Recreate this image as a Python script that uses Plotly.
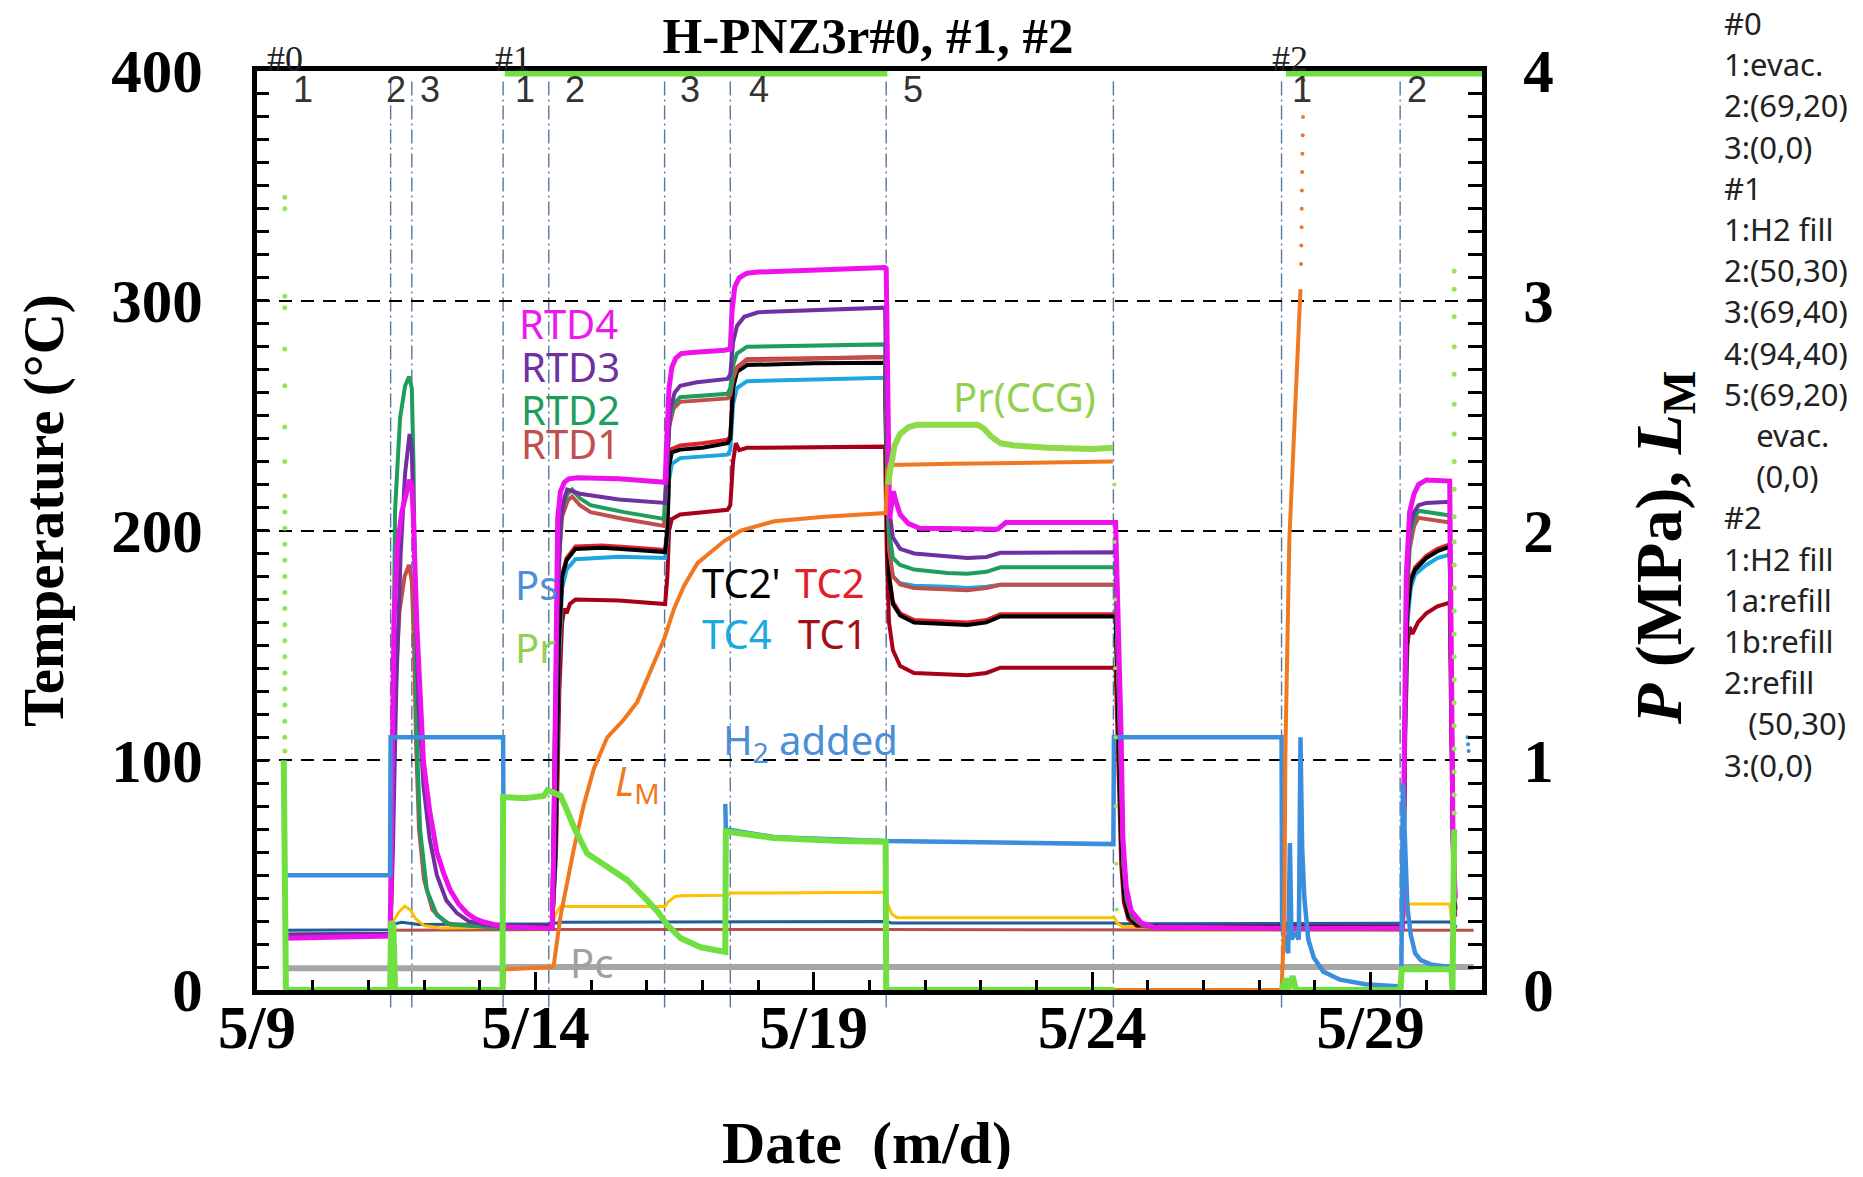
import numpy as np
import pandas as pd
import plotly.graph_objects as go

BASE = pd.Timestamp("2016-05-09")


def to_dt(days):
    return BASE + pd.to_timedelta(np.asarray(days, dtype=float), unit="D")


# ---------------- data: (days after 5/9 00:00, value) ----------------
event_days = [2.40, 2.78, 4.42, 5.24, 7.32, 8.50, 11.30, 15.38, 18.40, 20.53]
step_label_days = [0.83, 2.50, 3.10, 4.82, 5.71, 7.78, 9.02, 11.78, 18.77, 20.84]
step_labels = ["1", "2", "3", "1", "2", "3", "4", "5", "1", "2"]
run_label_days = [0.50, 4.60, 18.56]
run_labels = ["#0", "#1", "#2"]

x_tick_days = [0, 5, 10, 15, 20]
x_tick_text = ["5/9", "5/14", "5/19", "5/24", "5/29"]
y_ticks = [0, 100, 200, 300, 400]
y2_ticks = [0, 1, 2, 3, 4]

# temperatures (deg C)
rtd4 = [(0.47, 22.5), (1.0, 22.8), (2.0, 23.3), (2.39, 23.5), (2.40, 40), (2.42, 100), (2.46, 160), (2.52, 193),
        (2.60, 208), (2.68, 216), (2.74, 222), (2.78, 220), (2.81, 205), (2.87, 159), (2.93, 129), (2.99, 99),
        (3.10, 78), (3.23, 60), (3.35, 51), (3.47, 43.5), (3.62, 37.5), (3.77, 33.5), (3.92, 31), (4.07, 29.6),
        (4.43, 27.5), (5.00, 27), (5.30, 27), (5.33, 60), (5.36, 150), (5.40, 205), (5.45, 217), (5.52, 221),
        (5.60, 222.5), (5.75, 223), (6.50, 222.5), (7.33, 221), (7.36, 240), (7.40, 262), (7.45, 271),
        (7.52, 275), (7.62, 277), (7.80, 277.5), (8.40, 278.5), (8.50, 279), (8.53, 295), (8.58, 306),
        (8.66, 310), (8.80, 312), (9.00, 312.5), (9.50, 313), (10.50, 313.5), (11.28, 314.5), (11.30, 314),
        (11.33, 240), (11.36, 205), (11.40, 212), (11.43, 217), (11.47, 213), (11.55, 207), (11.70, 203),
        (11.90, 201), (13.30, 200.5), (13.45, 203.5), (15.42, 203.5), (15.46, 170), (15.52, 110), (15.55, 65.7),
        (15.61, 44.8), (15.70, 34.4), (15.88, 29.2), (16.12, 27.3), (17.0, 27), (18.40, 27), (20.57, 27),
        (20.60, 100), (20.64, 180), (20.70, 208), (20.78, 216), (20.86, 220), (21.00, 222), (21.42, 221.5),
        (21.45, 150), (21.48, 65), (21.52, 40)]
rtd3 = [(0.47, 24), (2.39, 24.5), (2.40, 26), (2.44, 60), (2.50, 130), (2.58, 190), (2.66, 225), (2.74, 242),
        (2.78, 235), (2.83, 185), (2.90, 125), (2.99, 89), (3.10, 66), (3.23, 50), (3.40, 39), (3.59, 33.5),
        (3.80, 30), (4.07, 28.5), (4.43, 27.5), (5.30, 27), (5.34, 80), (5.40, 170), (5.46, 205), (5.52, 214),
        (5.57, 217.8), (5.80, 216), (6.50, 213.5), (7.33, 212), (7.37, 230), (7.42, 252), (7.50, 260),
        (7.60, 263), (7.90, 264.5), (8.45, 266), (8.50, 268), (8.55, 282), (8.62, 289), (8.75, 293), (9.00, 295),
        (10.0, 296), (11.28, 297), (11.31, 250), (11.35, 210), (11.42, 197), (11.55, 192), (11.80, 190),
        (12.40, 188.5), (12.76, 188), (13.10, 188.5), (13.35, 190.3), (15.42, 190.5), (15.46, 150), (15.52, 90),
        (15.56, 60), (15.62, 42), (15.72, 33), (15.90, 28.5), (16.20, 27), (18.40, 27), (20.57, 27), (20.60, 90),
        (20.64, 170), (20.70, 200), (20.78, 208), (20.86, 211), (21.00, 212), (21.42, 212.5), (21.45, 140),
        (21.48, 70), (21.52, 40)]
rtd2 = [(0.47, 24), (2.39, 24.5), (2.40, 26), (2.42, 80), (2.44, 129), (2.48, 209), (2.57, 249), (2.66, 263),
        (2.73, 267), (2.78, 262), (2.81, 229), (2.84, 169), (2.87, 109), (2.93, 69.4), (3.05, 43.5), (3.23, 32.6),
        (3.47, 28.5), (4.43, 27), (5.30, 27), (5.34, 100), (5.40, 185), (5.48, 210), (5.58, 216), (5.66, 217.8),
        (5.80, 214), (5.99, 211), (6.59, 208), (7.31, 205), (7.35, 225), (7.40, 248), (7.48, 255), (7.60, 258),
        (8.45, 259.5), (8.50, 262), (8.55, 272), (8.62, 277), (8.80, 280), (10.0, 280.5), (11.28, 281),
        (11.31, 240), (11.35, 200), (11.42, 188), (11.55, 185), (11.80, 183), (12.40, 181.5), (12.76, 181.2),
        (13.10, 182), (13.35, 184), (15.42, 184), (15.46, 145), (15.52, 85), (15.56, 55), (15.62, 40),
        (15.72, 32), (15.90, 28.5), (16.20, 27), (18.40, 27), (20.57, 27), (20.60, 95), (20.64, 170),
        (20.70, 196), (20.78, 205), (20.86, 208.6), (21.00, 208), (21.42, 206.5), (21.45, 140), (21.48, 70),
        (21.52, 40)]
rtd1 = [(0.47, 24), (2.39, 24.5), (2.40, 26), (2.43, 70), (2.48, 130), (2.56, 165), (2.65, 180), (2.73, 185),
        (2.78, 178), (2.82, 150), (2.86, 105), (2.91, 70), (3.00, 48), (3.15, 35), (3.40, 29), (4.43, 27),
        (5.30, 27), (5.34, 95), (5.40, 180), (5.48, 206), (5.58, 213), (5.66, 214.8), (5.80, 211), (5.99, 208),
        (6.59, 205), (7.31, 202), (7.35, 222), (7.40, 245), (7.48, 253), (7.60, 256), (8.45, 257.5), (8.50, 259),
        (8.55, 266), (8.62, 271), (8.80, 274), (11.28, 275.5), (11.31, 230), (11.35, 192), (11.42, 180),
        (11.55, 176.5), (11.80, 175), (12.40, 174.3), (12.76, 174), (13.10, 175), (13.35, 176.4), (15.42, 176.4),
        (15.46, 140), (15.52, 82), (15.56, 54), (15.62, 39), (15.72, 31.5), (15.90, 28), (16.20, 27), (18.40, 27),
        (20.57, 27), (20.60, 90), (20.64, 165), (20.70, 192), (20.78, 202), (20.86, 205.5), (21.00, 205),
        (21.42, 203.5), (21.45, 130), (21.48, 65), (21.52, 38)]
tc2p = [(4.43, 27.5), (5.30, 27.5), (5.36, 60), (5.42, 150), (5.48, 180), (5.56, 187), (5.72, 192),
        (6.20, 192.5), (6.80, 191.5), (7.33, 190.6), (7.37, 200), (7.40, 228), (7.45, 234), (7.60, 235.2),
        (8.00, 236), (8.45, 238), (8.50, 240), (8.55, 262), (8.62, 269), (8.80, 272), (10.0, 272.8), (11.28, 273),
        (11.31, 210), (11.35, 180), (11.42, 168), (11.55, 163), (11.80, 160), (12.40, 159.5), (12.76, 158.9),
        (13.10, 160), (13.35, 162.6), (15.42, 162.6), (15.46, 120), (15.52, 65), (15.57, 42), (15.65, 32),
        (15.80, 28.5), (16.20, 27.5), (18.40, 27.5), (20.58, 27.5), (20.62, 120), (20.66, 165), (20.72, 178),
        (20.80, 183), (21.00, 188), (21.20, 191), (21.42, 193), (21.45, 120), (21.48, 60), (21.52, 35)]
tc2 = [(4.43, 27.5), (5.30, 27.5), (5.36, 60), (5.42, 150), (5.48, 181), (5.56, 188), (5.72, 193),
       (6.20, 193.5), (6.80, 192.5), (7.33, 191.5), (7.37, 201), (7.40, 229), (7.45, 235.5), (7.60, 237),
       (8.00, 238), (8.45, 239.5), (8.50, 241), (8.55, 264), (8.62, 271), (8.80, 274.5), (10.0, 275),
       (11.28, 275.5), (11.31, 212), (11.35, 181), (11.42, 169), (11.55, 164), (11.80, 161), (12.40, 160.5),
       (12.76, 160), (13.10, 161), (13.35, 163.5), (15.42, 163.5), (15.46, 121), (15.52, 66), (15.57, 42.5),
       (15.65, 32), (15.80, 28.5), (16.20, 27.5), (18.40, 27.5), (20.58, 27.5), (20.62, 121), (20.66, 166),
       (20.72, 179), (20.80, 184), (21.00, 189), (21.20, 192), (21.42, 194), (21.45, 121), (21.48, 60),
       (21.52, 35)]
tc4 = [(4.43, 27.5), (5.30, 27.5), (5.36, 55), (5.42, 140), (5.48, 175), (5.56, 183), (5.72, 187.5),
       (6.50, 188.6), (7.33, 188), (7.37, 198), (7.40, 222), (7.45, 229), (7.60, 231.5), (8.45, 233), (8.50, 235),
       (8.55, 255), (8.62, 262), (8.80, 265), (11.28, 266.5), (11.31, 215), (11.35, 190), (11.42, 180),
       (11.55, 177), (11.80, 176), (12.40, 175.5), (12.76, 175), (13.10, 175.5), (13.35, 176.4), (15.42, 176.4),
       (15.46, 135), (15.52, 78), (15.56, 52), (15.62, 38), (15.72, 31), (15.90, 28), (16.20, 27.5), (18.40, 27.5),
       (20.58, 27.5), (20.62, 110), (20.66, 160), (20.72, 175), (20.80, 181), (21.00, 185), (21.20, 188),
       (21.42, 189.5), (21.45, 120), (21.48, 60), (21.52, 35)]
tc1 = [(4.43, 27.5), (5.30, 27.5), (5.37, 60), (5.43, 130), (5.48, 160), (5.52, 166), (5.56, 164),
       (5.62, 168), (5.72, 170), (6.50, 169.5), (7.33, 168), (7.37, 180), (7.40, 200), (7.45, 205), (7.60, 207),
       (8.45, 209), (8.50, 211), (8.55, 230), (8.60, 238), (8.66, 235), (8.80, 236), (11.28, 236.5), (11.31, 190),
       (11.35, 160), (11.42, 148), (11.55, 141), (11.80, 138), (12.40, 137.3), (12.76, 137), (13.10, 138),
       (13.35, 140.3), (15.42, 140.3), (15.46, 100), (15.52, 55), (15.57, 38), (15.65, 31), (15.80, 28),
       (16.20, 27.5), (18.40, 27.5), (20.58, 27.5), (20.62, 110), (20.66, 150), (20.70, 158), (20.75, 155),
       (20.85, 160), (21.00, 164), (21.20, 167), (21.42, 168.6), (21.45, 110), (21.48, 55), (21.52, 32)]
t_darkblue = [(0.47, 26), (2.39, 26.2), (2.42, 28.5), (2.60, 29.5), (2.90, 28.5), (4.40, 28.5), (5.30, 28.8),
              (5.45, 29.5), (11.30, 29.8), (11.40, 29.2), (15.40, 29.2), (15.50, 28.8), (18.40, 28.8),
              (20.55, 29), (20.65, 29.6), (21.42, 29.6), (21.48, 28), (21.55, 27.5)]
t_brown = [(2.40, 26), (5.30, 26.3), (11.30, 26.3), (15.40, 26.2), (18.40, 26), (21.85, 26)]
t_yellow = [(2.40, 26.5), (2.45, 30), (2.55, 34), (2.65, 36.5), (2.75, 35), (2.85, 31), (3.00, 28), (3.30, 27),
            (5.30, 27.5), (5.36, 33), (5.45, 36.3), (7.33, 36.3), (7.37, 38), (7.50, 40.6), (7.60, 41),
            (8.45, 41.2), (8.52, 42.2), (11.28, 42.5), (11.32, 38), (11.40, 33), (11.50, 31.5), (15.40, 31.5),
            (15.45, 29), (15.55, 27.5), (20.57, 27.5), (20.62, 34), (20.70, 37.4), (21.42, 37.4), (21.46, 29)]

# pressures (MPa) and L_M
ps = [(0.47, 0.50), (2.39, 0.50), (2.40, 1.10), (4.42, 1.10), (4.425, 0.84), (4.43, None), (8.41, 0.81),
      (8.42, 0.70), (9.30, 0.665), (10.50, 0.652), (11.30, 0.648), (13.00, 0.643), (15.38, 0.635), (15.39, 1.10),
      (18.40, 1.10), (18.41, 0.30), (18.45, 0.22), (18.52, 0.16), (18.55, 0.64), (18.58, 0.22), (18.64, 0.25),
      (18.71, 0.22), (18.74, 1.10), (18.77, 0.62), (18.81, 0.40), (18.88, 0.22), (18.98, 0.14), (19.15, 0.08),
      (19.45, 0.045), (19.90, 0.025), (20.55, 0.015), (20.58, 0.90), (20.62, 0.55), (20.66, 0.36), (20.72, 0.24),
      (20.80, 0.16), (20.90, 0.13), (21.10, 0.11), (21.42, 0.10)]
ps_dots = [(21.74, 1.10), (21.75, 1.07), (21.76, 1.04)]
pr = [(0.48, 1.00), (0.50, 0.45), (0.52, 0.00), (2.39, 0.00), (2.41, 0.30), (2.45, 0.28), (2.48, 0.00),
      (4.41, 0.00), (4.42, 0.84), (4.80, 0.835), (5.15, 0.845), (5.22, 0.87), (5.30, 0.86), (5.45, 0.846),
      (5.57, 0.78), (5.69, 0.71), (5.93, 0.594), (6.29, 0.535), (6.65, 0.478), (7.01, 0.39), (7.20, 0.34),
      (7.37, 0.283), (7.61, 0.225), (7.97, 0.186), (8.38, 0.166), (8.41, 0.166), (8.42, 0.69), (9.28, 0.662),
      (10.49, 0.649), (11.29, 0.645), (11.30, 0.00), (15.40, 0.00), (15.41, None), (18.40, 0.00), (18.48, 0.05),
      (18.52, 0.00), (18.60, 0.06), (18.66, 0.00), (20.53, 0.00), (20.56, 0.09), (21.45, 0.09), (21.47, 0.00),
      (21.49, 0.40), (21.50, 0.70)]
pr_dots = [(0.50, 3.45), (0.50, 3.40), (0.50, 3.02), (0.50, 2.97), (0.50, 2.79), (0.50, 2.63), (0.50, 2.45),
           (0.50, 2.30), (0.50, 2.15), (0.50, 2.08), (0.50, 2.01), (0.50, 1.94), (0.50, 1.87), (0.50, 1.80),
           (0.50, 1.73), (0.50, 1.66), (0.50, 1.59), (0.50, 1.52), (0.50, 1.45), (0.50, 1.38), (0.50, 1.31),
           (0.50, 1.24), (0.50, 1.17), (0.50, 1.10), (0.50, 1.04),
           (21.50, 3.13), (21.50, 3.05), (21.50, 2.93), (21.50, 2.80), (21.50, 2.68), (21.50, 2.55), (21.50, 2.42),
           (21.50, 2.30), (21.50, 2.18), (21.50, 2.06), (21.50, 1.95), (21.50, 1.85), (21.50, 1.75), (21.50, 1.65),
           (21.50, 1.55), (21.50, 1.45), (21.50, 1.35), (21.50, 1.25), (21.50, 1.15), (21.50, 1.05), (21.50, 0.95),
           (21.50, 0.85), (21.50, 0.77)]
pr_ccg_over = [(4.45, 4.0), (11.32, 4.0), (11.325, None), (18.48, 4.0), (22.0, 4.0)]
pr_ccg = [(11.33, 2.20), (11.36, 2.25), (11.40, 2.31), (11.45, 2.37), (11.55, 2.42), (11.70, 2.45), (11.85, 2.46),
          (12.94, 2.46), (13.05, 2.445), (13.18, 2.41), (13.35, 2.38), (13.60, 2.37), (14.20, 2.36), (15.00, 2.355),
          (15.37, 2.36)]
ccg_dots = [(15.40, 2.20), (15.40, 1.95), (15.41, 1.70), (15.41, 1.40), (15.42, 1.10), (15.42, 0.80),
            (15.43, 0.55), (15.44, 0.35)]
lm = [(4.42, 0.00), (4.44, 0.09), (5.30, 0.10), (5.33, 0.109), (5.45, 0.32), (5.57, 0.479), (5.69, 0.614),
      (5.87, 0.807), (6.05, 0.963), (6.29, 1.10), (6.59, 1.177), (6.83, 1.254), (7.07, 1.39), (7.31, 1.527),
      (7.49, 1.66), (7.67, 1.76), (7.91, 1.858), (8.21, 1.915), (8.39, 1.954), (8.69, 2.00), (9.29, 2.04),
      (10.19, 2.06), (11.29, 2.076), (11.32, 2.26), (11.36, 2.285), (12.50, 2.29), (15.37, 2.30), (15.375, None),
      (15.40, 0.00), (18.40, 0.00), (18.45, 0.30), (18.47, 1.05), (18.54, 1.96), (18.63, 2.48), (18.72, 2.95),
      (18.74, 3.05)]
lm_dots = [(18.75, 3.16), (18.755, 3.24), (18.76, 3.32), (18.762, 3.40), (18.765, 3.48), (18.77, 3.56),
           (18.775, 3.64), (18.78, 3.72), (18.785, 3.80), (18.79, 3.88), (18.795, 3.96)]
pc = [(0.47, 0.095), (2.40, 0.093), (4.42, 0.095), (4.50, 0.10), (11.30, 0.10), (15.40, 0.10), (18.40, 0.10),
      (21.85, 0.10)]

notes = ["#0", "1:evac.", "2:(69,20)", "3:(0,0)", "#1", "1:H2 fill", "2:(50,30)", "3:(69,40)", "4:(94,40)",
         "5:(69,20)", "\u00a0\u00a0\u00a0\u00a0evac.", "\u00a0\u00a0\u00a0\u00a0(0,0)", "#2", "1:H2 fill",
         "1a:refill", "1b:refill", "2:refill", "\u00a0\u00a0\u00a0(50,30)", "3:(0,0)"]

# ---------------- figure ----------------
# page coordinates of the plot area (page has an 8 px body margin)
BODY = 8
W, H = 1863 - 2 * BODY, 1177 - 2 * BODY
PL, PR, PT, PB = 257, 1482, 71, 990


def px_x(x):
    return (x - PL) / (PR - PL)


def px_y(y):
    return (PB - y) / (PB - PT)


def unzip(pairs):
    t = [p[0] for p in pairs]
    v = [p[1] for p in pairs]
    return to_dt(t), v


fig = go.Figure()

temp_series = [
    ("ambient", t_brown, "#B5514C", 3),
    ("T5", t_darkblue, "#1F5C99", 3),
    ("T6", t_yellow, "#FFC000", 3),
    ("TC1", tc1, "#A8001A", 4),
    ("TC4", tc4, "#1CA7E1", 4),
    ("TC2", tc2, "#E0202A", 4),
    ("TC2'", tc2p, "#000000", 4),
    ("RTD1", rtd1, "#C0504D", 4),
    ("RTD2", rtd2, "#1E9E5A", 4),
    ("RTD3", rtd3, "#7030A0", 4),
    ("RTD4", rtd4, "#EE11EE", 5),
]
for name, pairs, color, width in temp_series:
    x, y = unzip(pairs)
    fig.add_trace(go.Scatter(x=x, y=y, mode="lines", name=name, yaxis="y",
                             line=dict(color=color, width=width)))

press_series = [
    ("Pc", pc, "#A6A6A6", 6),
    ("Ps", ps, "#3C8DDE", 4.5),
    ("L_M", lm, "#F07820", 4),
    ("Pr", pr, "#70E040", 6),
    ("Pr(CCG)", pr_ccg, "#8FDA48", 6),
    ("Pr(CCG) over range", pr_ccg_over, "#70E040", 11),
]
for name, pairs, color, width in press_series:
    x, y = unzip(pairs)
    fig.add_trace(go.Scatter(x=x, y=y, mode="lines", name=name, yaxis="y2",
                             line=dict(color=color, width=width)))

dot_series = [
    ("Pr dots", pr_dots, "#9BE05A", 5),
    ("Pr(CCG) dots", ccg_dots, "#9BE05A", 4),
    ("L_M dots", lm_dots, "#F07820", 4),
    ("Ps dots", ps_dots, "#3C8DDE", 4),
]
for name, pairs, color, size in dot_series:
    x, y = unzip(pairs)
    fig.add_trace(go.Scatter(x=x, y=y, mode="markers", name=name, yaxis="y2",
                             marker=dict(color=color, size=size)))

# event lines
shapes = []
for d in event_days:
    xd = to_dt([d])[0]
    shapes.append(dict(type="line", xref="x", yref="paper", x0=xd, x1=xd, y0=-0.019, y1=0.99,
                       line=dict(color="#56779E", width=1.4, dash="14px,4px,2px,4px"), layer="below"))

annotations = []
for d, s in zip(step_label_days, step_labels):
    annotations.append(dict(x=to_dt([d])[0], xref="x", y=px_y(90), yref="paper", text=s, showarrow=False,
                            font=dict(family="Liberation Sans Narrow, Arial Narrow, sans-serif", size=36,
                                      color="#333333"), xanchor="center", yanchor="middle"))
for d, s in zip(run_label_days, run_labels):
    annotations.append(dict(x=to_dt([d])[0], xref="x", y=px_y(59), yref="paper", text=s, showarrow=False,
                            font=dict(family="Liberation Serif, serif", size=36, color="#222222"),
                            xanchor="center", yanchor="middle"))

label_font = "Noto Sans, Open Sans, sans-serif"
series_labels = [
    ("RTD4", 517, 323, "#EE18EE"), ("RTD3", 519, 366, "#7030A0"), ("RTD2", 519, 409, "#1E9E5A"),
    ("RTD1", 519, 443, "#C0504D"), ("Ps", 513, 584, "#4A8FD8"), ("Pr", 513, 647, "#92D050"),
    ("TC2'", 700, 582, "#000000"), ("TC2", 793, 582, "#E0202A"), ("TC4", 700, 633, "#1EA8E0"),
    ("TC1", 796, 633, "#A0101A"), ("H<sub>2</sub> added", 721, 741, "#4A8FD8"),
    ("<i>L</i><sub>M</sub>", 613, 782, "#F07820"), ("Pr(CCG)", 951, 396, "#92D050"), ("Pc", 568, 962, "#A0A0A0"),
]
for txt, lx, cy, col in series_labels:
    annotations.append(dict(x=px_x(lx), xref="paper", y=px_y(cy), yref="paper", text=txt, showarrow=False,
                            font=dict(family=label_font, size=40, color=col), xanchor="left", yanchor="middle"))

for i, line in enumerate(notes):
    annotations.append(dict(x=px_x(1722), xref="paper", y=px_y(23 + 41.2 * i), yref="paper", text=line,
                            showarrow=False, font=dict(family=label_font, size=31, color="#222222"),
                            xanchor="left", yanchor="middle"))

serif = "Liberation Serif, Times New Roman, serif"
annotations.append(dict(x=px_x(44), xref="paper", y=px_y(511), yref="paper", text="<b>Temperature (°C)</b>",
                        textangle=-90, showarrow=False, font=dict(family=serif, size=57, color="black"),
                        xanchor="center", yanchor="middle"))
annotations.append(dict(x=px_x(1663), xref="paper", y=px_y(548), yref="paper",
                        text="<b><i>P</i> (MPa), <i>L</i><sub>M</sub></b>",
                        textangle=-90, showarrow=False, font=dict(family=serif, size=66, color="black"),
                        xanchor="center", yanchor="middle"))
annotations.append(dict(x=px_x(867), xref="paper", y=px_y(1143), yref="paper", text="<b>Date\u00a0\u00a0(m/d)</b>",
                        showarrow=False, font=dict(family=serif, size=60, color="black"),
                        xanchor="center", yanchor="middle"))

tickfont = dict(family=serif, size=61, color="black", weight="bold")

fig.update_layout(
    width=W, height=H,
    margin=dict(l=PL - BODY, r=W - (PR - BODY), t=PT - BODY, b=H - (PB - BODY)),
    paper_bgcolor="white", plot_bgcolor="white",
    showlegend=False,
    title=dict(text="<b>H-PNZ3r#0, #1, #2</b>", x=(868 - BODY) / W, y=1 - (35 - BODY) / H,
               xref="container", yref="container",
               xanchor="center", yanchor="middle", font=dict(family=serif, size=51, color="black")),
    xaxis=dict(type="date", range=[to_dt([0])[0], to_dt([22])[0]],
               tickmode="array", tickvals=list(to_dt(x_tick_days)), ticktext=x_tick_text,
               ticks="inside", ticklen=18, tickwidth=3, tickcolor="black",
               minor=dict(ticks="inside", ticklen=10, tickwidth=3, tickcolor="black",
                          dtick=86400000, tick0=to_dt([0])[0], showgrid=False),
               showline=True, linewidth=5, linecolor="black", mirror=True,
               showgrid=False, zeroline=False, tickfont=tickfont, ticklabelstandoff=-20),
    yaxis=dict(range=[0, 400], tickmode="array", tickvals=y_ticks, ticktext=[str(v) for v in y_ticks],
               ticks="inside", ticklen=12, tickwidth=3, tickcolor="black",
               minor=dict(ticks="inside", ticklen=12, tickwidth=3, tickcolor="black", dtick=10, showgrid=False),
               showline=True, linewidth=5, linecolor="black",
               showgrid=True, gridcolor="black", gridwidth=2, griddash="13px,9px",
               zeroline=False, tickfont=tickfont, ticklabelstandoff=37),
    yaxis2=dict(range=[0, 4], overlaying="y", side="right", tickmode="array", tickvals=y2_ticks,
                ticktext=[str(v) for v in y2_ticks],
                ticks="inside", ticklen=14, tickwidth=3, tickcolor="black",
                minor=dict(ticks="inside", ticklen=14, tickwidth=3, tickcolor="black", dtick=0.1, showgrid=False),
                showline=True, linewidth=5, linecolor="black",
                showgrid=False, zeroline=False, tickfont=tickfont, ticklabelstandoff=24),
    shapes=shapes,
    annotations=annotations,
)

fig.write_html("out.html")
